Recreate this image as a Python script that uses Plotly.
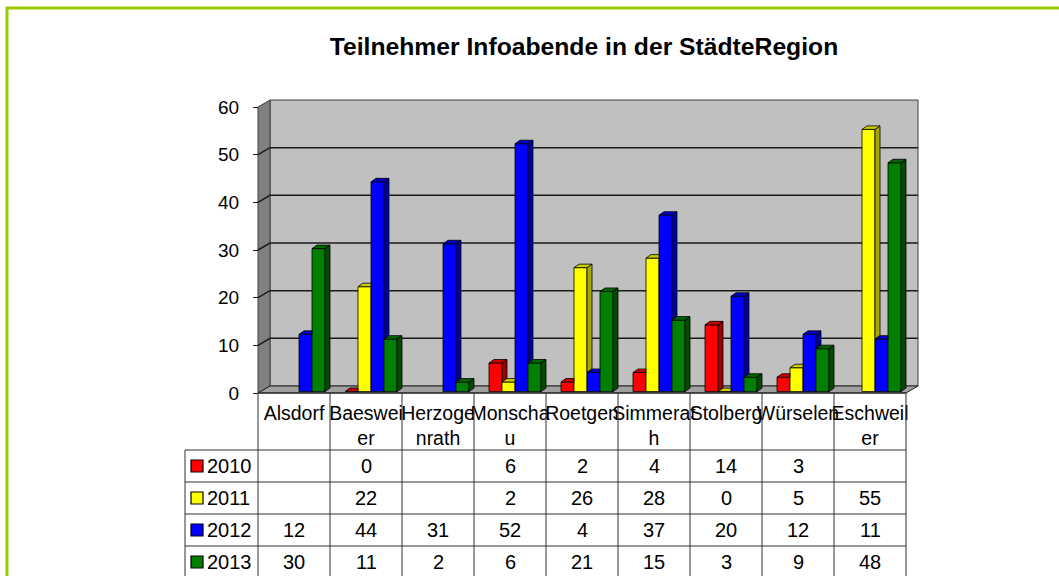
import plotly.graph_objects as go

# ---------------- data ----------------
categories = ["Alsdorf", "Baesweiler", "Herzogenrath", "Monschau", "Roetgen",
              "Simmerath", "Stolberg", "Würselen", "Eschweiler"]
tick_labels = ["Alsdorf", "Baeswei<br>er", "Herzoge<br>nrath", "Monscha<br>u", "Roetgen",
               "Simmerat<br>h", "Stolberg", "Würselen", "Eschweil<br>er"]
years = ["2010", "2011", "2012", "2013"]
v2010 = [None, 0, None, 6, 2, 4, 14, 3, None]
v2011 = [None, 22, None, 2, 26, 28, 0, 5, 55]
v2012 = [12, 44, 31, 52, 4, 37, 20, 12, 11]
v2013 = [30, 11, 2, 6, 21, 15, 3, 9, 48]
y_ticks = [0, 10, 20, 30, 40, 50, 60]
title_text = "Teilnehmer Infoabende in der StädteRegion"

series = [v2010, v2011, v2012, v2013]
front_colors = ["#FF0000", "#FFFF00", "#0000FF", "#008000"]
top_colors = ["#CC0000", "#CCCC00", "#0000CC", "#006600"]
side_colors = ["#990000", "#A8A800", "#000099", "#004D00"]

# ---------------- layout geometry (pixels) ----------------
W, H = 1059, 576
CAT_PX = 72.0
FRONT_LEFT = 258.0          # pixel of x = -0.5
FRONT_ZERO = 393.0          # pixel of y = 0
PX_PER_UNIT = 286.0 / 60.0
PLOT_L, PLOT_R, PLOT_T, PLOT_B = 255, 921, 97, 396

xmin = -0.5 - (FRONT_LEFT - PLOT_L) / CAT_PX
xmax = -0.5 + (PLOT_R - FRONT_LEFT) / CAT_PX
ymin = -(PLOT_B - FRONT_ZERO) / PX_PER_UNIT
ymax = (FRONT_ZERO - PLOT_T) / PX_PER_UNIT

WALL_DX = 12 / CAT_PX
WALL_DY = 7 / PX_PER_UNIT
BAR_DX = 5 / CAT_PX
BAR_DY = 3.5 / PX_PER_UNIT
BAR_W = 13 / CAT_PX
GROUP_SHIFT = 5 / CAT_PX
LIFT = 0.3
FONT = "Liberation Sans, Arial, sans-serif"


def px_x(px):
    return (px - PLOT_L) / (PLOT_R - PLOT_L)


def px_y(py):
    return (PLOT_B - py) / (PLOT_B - PLOT_T)


fig = go.Figure()

xs = list(range(len(categories)))
offsets = [-2 * BAR_W + GROUP_SHIFT + k * BAR_W for k in range(4)]

# front faces
for k, vals in enumerate(series):
    fig.add_trace(go.Bar(
        x=xs, y=vals, base=LIFT, width=BAR_W, offset=offsets[k],
        name=years[k], marker=dict(color=front_colors[k], line=dict(color="black", width=0.8)),
        showlegend=False, hoverinfo="skip"))

# 3D side and top faces
for k, vals in enumerate(series):
    sx, sy, tx, ty = [], [], [], []
    for i, v in enumerate(vals):
        if v is None:
            continue
        x0 = i + offsets[k]
        x1 = x0 + BAR_W
        b = LIFT
        t = LIFT + v
        nxt = series[k + 1][i] if k < 3 else None
        tn = LIFT + nxt if nxt is not None else None
        lower = b if tn is None else max(b, tn)
        if lower < t:
            sx += [x1, x1 + BAR_DX, x1 + BAR_DX, x1, x1, None]
            sy += [lower, lower + BAR_DY, t + BAR_DY, t, lower, None]
        if tn is not None and tn > t:
            tx += [x0, x1, x1, x0 + BAR_DX, x0, None]
            ty += [t, t, t + BAR_DY, t + BAR_DY, t, None]
        else:
            tx += [x0, x1, x1 + BAR_DX, x0 + BAR_DX, x0, None]
            ty += [t, t, t + BAR_DY, t + BAR_DY, t, None]
    for fx, fy, col in ((sx, sy, side_colors[k]), (tx, ty, top_colors[k])):
        if fx:
            fig.add_trace(go.Scatter(
                x=fx, y=fy, mode="lines", fill="toself", fillcolor=col,
                line=dict(color="black", width=0.8), showlegend=False, hoverinfo="skip"))

shapes = []
wall_line = dict(color="#404040", width=1)
x_left, x_right = -0.5, len(categories) - 0.5
# back wall
shapes.append(dict(type="rect", xref="x", yref="y", layer="below",
                   x0=x_left + WALL_DX, x1=x_right + WALL_DX, y0=WALL_DY, y1=y_ticks[-1] + WALL_DY,
                   fillcolor="#C0C0C0", line=wall_line))
# side wall
shapes.append(dict(type="path", xref="x", yref="y", layer="below",
                   path=f"M {x_left},0 L {x_left},{y_ticks[-1]} L {x_left + WALL_DX},{y_ticks[-1] + WALL_DY} "
                        f"L {x_left + WALL_DX},{WALL_DY} Z",
                   fillcolor="#808080", line=wall_line))
# floor
shapes.append(dict(type="path", xref="x", yref="y", layer="below",
                   path=f"M {x_left},0 L {x_right},0 L {x_right + WALL_DX},{WALL_DY} "
                        f"L {x_left + WALL_DX},{WALL_DY} Z",
                   fillcolor="#A0A0A0", line=dict(color="#202020", width=1)))
# gridlines on walls
for v in y_ticks[1:-1]:
    shapes.append(dict(type="path", xref="x", yref="y", layer="below",
                       path=f"M {x_left},{v} L {x_left + WALL_DX},{v + WALL_DY} L {x_right + WALL_DX},{v + WALL_DY}",
                       line=dict(color="#1A1A1A", width=1.5)))
# front axis line at 0
shapes.append(dict(type="line", xref="x", yref="y", x0=x_left, x1=x_right, y0=0, y1=0,
                   line=dict(color="#202020", width=1)))

# ---------------- data table ----------------
TABLE_TOP = 450
ROW_H = 32
TABLE_BOTTOM = 590
LABEL_LEFT = 185
tcol = "#333333"
for j in range(len(categories) + 1):
    shapes.append(dict(type="line", xref="x", yref="paper", x0=j - 0.5, x1=j - 0.5,
                       y0=px_y(FRONT_ZERO), y1=px_y(TABLE_BOTTOM), line=dict(color=tcol, width=1)))
shapes.append(dict(type="line", xref="paper", yref="paper", x0=px_x(LABEL_LEFT), x1=px_x(LABEL_LEFT),
                   y0=px_y(TABLE_TOP), y1=px_y(TABLE_BOTTOM), line=dict(color=tcol, width=1)))
for r in range(len(years)):
    yy = TABLE_TOP + r * ROW_H
    shapes.append(dict(type="line", xref="paper", yref="paper", x0=px_x(LABEL_LEFT),
                       x1=px_x(FRONT_LEFT + len(categories) * CAT_PX),
                       y0=px_y(yy), y1=px_y(yy), line=dict(color=tcol, width=1)))

annotations = []
for r, (yr, vals) in enumerate(zip(years, series)):
    rc = TABLE_TOP + r * ROW_H + ROW_H / 2
    shapes.append(dict(type="rect", xref="paper", yref="paper",
                       x0=px_x(191), x1=px_x(203), y0=px_y(rc + 6), y1=px_y(rc - 6),
                       fillcolor=front_colors[r], line=dict(color="black", width=1.2)))
    annotations.append(dict(text=yr, xref="paper", yref="paper", x=px_x(205), y=px_y(rc),
                            xanchor="left", yanchor="middle", showarrow=False,
                            font=dict(family=FONT, size=20, color="black")))
    for i, v in enumerate(vals):
        if v is None:
            continue
        annotations.append(dict(text=str(v), xref="x", yref="paper", x=i, y=px_y(rc),
                                xanchor="center", yanchor="middle", showarrow=False,
                                font=dict(family=FONT, size=20, color="black")))

# green frame
shapes.append(dict(type="rect", xref="paper", yref="paper",
                   x0=px_x(7), x1=px_x(1075), y0=px_y(8), y1=px_y(600),
                   line=dict(color="#99CC00", width=3), fillcolor="rgba(0,0,0,0)"))

fig.update_layout(
    width=W, height=H, autosize=False,
    margin=dict(l=PLOT_L, r=W - PLOT_R, t=PLOT_T, b=H - PLOT_B, pad=0),
    paper_bgcolor="white", plot_bgcolor="white",
    barmode="overlay",
    title=dict(text=f"<b>{title_text}</b>", x=584 / W, xref="container", xanchor="center",
               y=1 - 46 / H, yref="container", yanchor="middle",
               font=dict(family=FONT, size=24.7, color="black")),
    xaxis=dict(range=[xmin, xmax], tickmode="array", tickvals=xs, ticktext=tick_labels,
               showgrid=False, zeroline=False, showline=False, ticks="",
               tickangle=0, ticklabelstandoff=3,
               tickfont=dict(family=FONT, size=19.5, color="black"), fixedrange=True),
    yaxis=dict(range=[ymin, ymax], tickmode="array", tickvals=y_ticks,
               anchor="free", position=px_x(FRONT_LEFT),
               showgrid=False, zeroline=False, showline=False,
               ticks="outside", ticklen=5, tickcolor="#202020", tickwidth=1,
               ticklabelstandoff=10,
               tickfont=dict(family=FONT, size=19, color="black"), fixedrange=True),
    shapes=shapes, annotations=annotations,
)

fig.write_html("out.html", config={"displayModeBar": False},
               post_script="document.body.style.margin='0';document.body.style.overflow='hidden';")
